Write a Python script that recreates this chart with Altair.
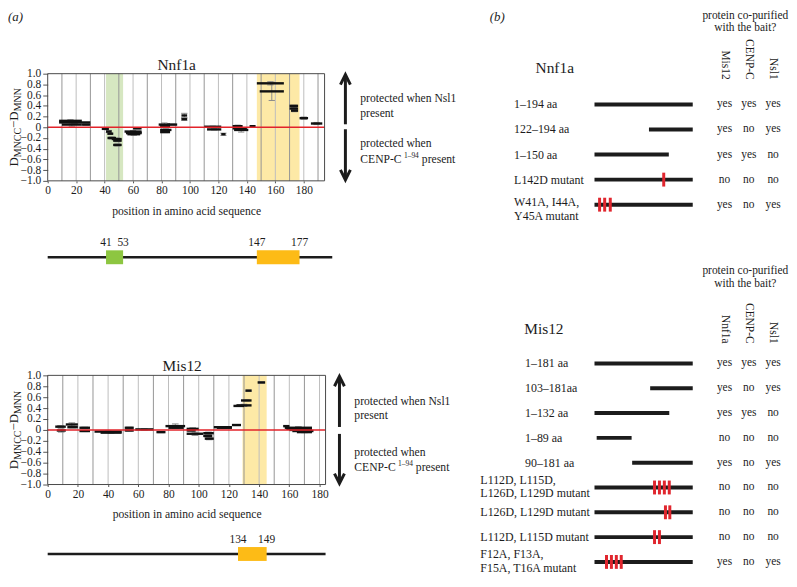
import altair as alt
import pandas as pd

FONT = "Liberation Serif"
INK = "#1c1c1c"
RED_LINE = "#e2232a"
RED_MUT = "#e0262e"
GREEN_BAND = "#d6e7c1"
GREEN_BOX = "#8dc641"
YELLOW_BAND = "#fde9a6"
YELLOW_BOX = "#fdbb16"

# ---------------- panel (a): Nnf1a ----------------
nnf_start = [8, 8, 10, 24, 38, 41, 42, 42, 45, 46, 46, 54, 55, 56, 58, 60, 78, 79, 79, 79, 84, 94, 94,
             110, 112, 122, 130, 130, 131, 142, 147, 149, 170, 170, 171, 177, 185]
nnf_end = [24, 30, 24, 30, 43, 45, 46, 48, 52, 52, 52, 66, 66, 65, 66, 66, 86, 86, 87, 86, 91, 98, 98,
           122, 122, 125, 137, 140, 141, 146, 166, 166, 176, 176, 176, 183, 193]
nnf_val = [0.12, 0.09, 0.05, 0.05, -0.03, -0.08, -0.12, -0.20, -0.22, -0.25, -0.33, -0.08, -0.11, -0.13,
           -0.10, -0.02, 0.05, 0.02, -0.05, -0.09, 0.05, 0.22, 0.15, 0.01, -0.04, -0.13, 0.02, -0.02,
           -0.05, 0.02, 0.82, 0.67, 0.40, 0.35, 0.31, 0.17, 0.07]
nnf_err = [0.02, 0.02, 0.03, 0.01, 0.01, 0.02, 0.01, 0.02, 0.02, 0.02, 0.02, 0.02, 0.02, 0.02, 0.01, 0.01,
           0.03, 0.02, 0.02, 0.01, 0.01, 0.04, 0.02, 0.01, 0.01, 0.02, 0.02, 0.02, 0.04, 0.01, 0.03, 0.17,
           0.01, 0.02, 0.02, 0.02, 0.02]
nnf_band_start = [41, 147]
nnf_band_end = [53, 177]
nnf_band_color = [GREEN_BAND, YELLOW_BAND]
nnf_box_start = [41, 147]
nnf_box_end = [53, 177]
nnf_box_color = [GREEN_BOX, YELLOW_BOX]
nnf_box_label_start = ["41", "147"]
nnf_box_label_end = ["53", "177"]
nnf_line_end = 200
nnf_grid = [10, 20, 30, 40, 50, 60, 70, 80, 90, 100, 110, 120, 130, 140, 150, 160, 170, 180, 190]

# ---------------- panel (a): Mis12 ----------------
mis_start = [5, 6, 12, 13, 21, 21, 31, 35, 51, 51, 58, 72, 78, 80, 92, 92, 92, 103, 103, 104, 110, 112,
             122, 123, 125, 128, 131, 139, 156, 157, 158, 160, 162, 165]
mis_end = [12, 12, 20, 20, 28, 28, 49, 49, 57, 57, 70, 78, 91, 90, 100, 98, 103, 110, 109, 110, 122, 122,
           128, 130, 135, 135, 135, 144, 160, 175, 175, 172, 176, 175]
mis_val = [0.06, -0.01, 0.10, 0.05, 0.04, -0.02, -0.03, -0.05, 0.04, -0.01, 0.01, -0.04, 0.07, 0.04, 0.02,
           -0.01, -0.07, -0.06, -0.11, -0.16, 0.05, 0.04, 0.09, 0.44, 0.45, 0.54, 0.72, 0.87, 0.07, 0.04,
           0.02, 0.00, -0.02, -0.04]
mis_err = [0.02, 0.03, 0.03, 0.01, 0.01, 0.01, 0.01, 0.01, 0.01, 0.01, 0.01, 0.01, 0.04, 0.01, 0.02, 0.01,
           0.03, 0.02, 0.02, 0.02, 0.01, 0.01, 0.01, 0.01, 0.02, 0.01, 0.01, 0.01, 0.01, 0.02, 0.01, 0.01,
           0.02, 0.01]
mis_band_start = [129]
mis_band_end = [145]
mis_band_color = [YELLOW_BAND]
mis_box_start = [126]
mis_box_end = [145]
mis_box_color = [YELLOW_BOX]
mis_box_label_start = ["134"]
mis_box_label_end = ["149"]
mis_line_end = 184
mis_grid = [10, 20, 30, 40, 50, 60, 70, 80, 90, 100, 110, 120, 130, 140, 150, 160, 170, 180]

Y_TICKS = [1.0, 0.8, 0.6, 0.4, 0.2, 0.0, -0.2, -0.4, -0.6, -0.8, -1.0]
X_TICKS = [0, 20, 40, 60, 80, 100, 120, 140, 160, 180]

# ---------------- panel (b): constructs ----------------
nnf_tab_labels = ["1–194 aa", "122–194 aa", "1–150 aa", "L142D mutant", "W41A, I44A,\nY45A mutant"]
nnf_tab_start = [1, 108, 1, 1, 1]
nnf_tab_end = [194, 194, 147, 194, 194]
nnf_tab_mut = [[], [], [], [137], [11, 21, 32]]
nnf_tab_cols = ["Mis12", "CENP-C", "Nsl1"]
nnf_tab_ans = [["yes", "yes", "yes"], ["yes", "no", "yes"], ["yes", "yes", "no"],
               ["no", "no", "no"], ["yes", "no", "yes"]]

mis_tab_labels = ["1–181 aa", "103–181aa", "1–132 aa", "1–89 aa", "90–181 aa",
                  "L112D, L115D,\nL126D, L129D mutant", "L126D, L129D mutant", "L112D, L115D mutant",
                  "F12A, F13A,\nF15A, T16A mutant"]
mis_tab_start = [1, 103, 1, 5, 70, 1, 1, 1, 1]
mis_tab_end = [181, 181, 138, 69, 181, 181, 181, 181, 181]
mis_tab_mut = [[], [], [], [], [], [111, 120, 129, 138], [131, 139], [111, 120], [23, 32, 41, 50]]
mis_tab_cols = ["Nnf1a", "CENP-C", "Nsl1"]
mis_tab_ans = [["yes", "yes", "yes"], ["yes", "no", "yes"], ["yes", "yes", "no"], ["no", "no", "no"],
               ["yes", "no", "yes"], ["no", "no", "no"], ["no", "no", "no"], ["no", "no", "no"],
               ["yes", "no", "yes"]]

ONE = pd.DataFrame({"k": [0]})


def txt(text, x, y, size=11.7, align="left", baseline="middle", angle=None, style=None,
        dx=None, dy=None, color=INK):
    kw = dict(text=text, fontSize=size, align=align, baseline=baseline, font=FONT, color=color)
    if angle is not None:
        kw["angle"] = angle
    if style:
        kw["fontStyle"] = style
    if dx is not None:
        kw["dx"] = dx
    if dy is not None:
        kw["dy"] = dy
    return alt.Chart(ONE).mark_text(**kw).encode(x=alt.value(x), y=alt.value(y))


def hdx_panel(start, end, val, err, xmax, W, H, band_s, band_e, band_c, grid, title, title_x,
              arrow_x, up_end, dn_start, note_y, box_s, box_e, box_c, lab_s, lab_e, line_end,
              diag_y, extra):
    xs = alt.Scale(domain=[0, xmax], nice=False, zero=False)
    ys = alt.Scale(domain=[-1, 1], nice=False, zero=False)
    ax_x = alt.Axis(values=X_TICKS, title="position in amino acid sequence", labelFont=FONT,
                    titleFont=FONT, labelFontSize=11.5, titleFontSize=11.7, titleFontWeight="normal",
                    labelColor=INK, titleColor=INK, tickSize=2, labelPadding=2, titlePadding=9,
                    domain=False, grid=False, tickColor="#555", labelFlush=False, labelOverlap=False)
    ax_y = alt.Axis(values=Y_TICKS, title=None, labelFont=FONT, labelFontSize=11.5, labelColor=INK,
                    labelExpr="datum.value == 0 ? '0' : format(datum.value, '.1f')",
                    tickSize=5, labelPadding=2, domain=False, grid=False, tickColor="#555",
                    labelOverlap=False)

    def X(f):
        return alt.X(f, type="quantitative", scale=xs, axis=ax_x)

    def Y(f):
        return alt.Y(f, type="quantitative", scale=ys, axis=ax_y)

    seg = pd.DataFrame(dict(start=start, end=end, val=val, err=err))
    bands = pd.DataFrame(dict(s=band_s, e=band_e, c=band_c))
    grid_df = pd.DataFrame(dict(g=grid))
    boxes = pd.DataFrame(dict(s=box_s, e=box_e, c=box_c, ls=lab_s, le=lab_e))
    line_df = pd.DataFrame(dict(s=[0], e=[line_end]))

    layers = []
    layers.append(alt.Chart(bands).mark_rect().encode(
        x=X("s"), x2="e", y=alt.value(0), y2=alt.value(H), color=alt.Color("c:N", scale=None)))
    layers.append(alt.Chart(grid_df).transform_calculate(
        shade="datum.g % 20 == 0 ? '#bdbdbd' : '#959595'").mark_rule(strokeWidth=1).encode(
        x=X("g"), y=alt.value(0), y2=alt.value(H), color=alt.Color("shade:N", scale=None)))
    # error bars first, so that the peptide segments sit on top of them
    ebase = alt.Chart(seg).transform_calculate(
        mid="(datum.start + datum.end) / 2", lo="datum.val - datum.err", hi="datum.val + datum.err",
        cl="(datum.start + datum.end) / 2 - 2.2", cr="(datum.start + datum.end) / 2 + 2.2")
    layers.append(ebase.mark_rule(color="#8a8a8a", strokeWidth=1).encode(
        x=X("mid"), y=Y("lo"), y2="hi"))
    layers.append(ebase.mark_rule(color="#8a8a8a", strokeWidth=1).encode(
        x=X("cl"), x2="cr", y=Y("lo")))
    layers.append(ebase.mark_rule(color="#8a8a8a", strokeWidth=1).encode(
        x=X("cl"), x2="cr", y=Y("hi")))
    layers.append(alt.Chart(seg).mark_rule(color="#111111", strokeWidth=2.4).encode(
        x=X("start"), x2="end", y=Y("val")))
    layers.append(alt.Chart(pd.DataFrame({"z": [0.0]})).mark_rule(
        color=RED_LINE, strokeWidth=1.5).encode(y=Y("z")))
    layers.append(alt.Chart(ONE).mark_rect(fillOpacity=0, stroke="#4a4a4a", strokeWidth=1).encode(
        x=alt.value(0), x2=alt.value(W), y=alt.value(0), y2=alt.value(H)))

    # title
    layers.append(txt(title, title_x, -9, size=15.5, align="center"))

    # y-axis title  D_MNCC - D_MNN (rotated)
    yc = H / 2
    for part, size, dx, dy in [("D", 13, -39.5, 0), ("MNCC", 10, -30.1, 3),
                               ("\u2212D", 13, -0.65, 0), ("MNN", 10, 16.1, 3)]:
        layers.append(txt(part, -30, yc, size=size, align="left", baseline="alphabetic",
                          angle=270, dx=dx, dy=dy))

    # double arrow
    layers.append(alt.Chart(ONE).mark_rule(color=INK, strokeWidth=3).encode(
        x=alt.value(arrow_x), y=alt.value(3), y2=alt.value(up_end)))
    layers.append(alt.Chart(ONE).mark_rule(color=INK, strokeWidth=3).encode(
        x=alt.value(arrow_x), y=alt.value(dn_start), y2=alt.value(H - 3)))
    layers.append(alt.Chart(ONE).mark_point(shape="M-0.5,1L0,0L0.5,1", size=400, filled=False,
                                            strokeWidth=3, color=INK, opacity=1).encode(
        x=alt.value(arrow_x), y=alt.value(1)))
    layers.append(alt.Chart(ONE).mark_point(shape="M-0.5,-1L0,0L0.5,-1", size=400, filled=False,
                                            strokeWidth=3, color=INK, opacity=1).encode(
        x=alt.value(arrow_x), y=alt.value(H - 1)))

    # notes
    nx = arrow_x + 15
    layers.append(txt("protected when Nsl1", nx, note_y[0]))
    layers.append(txt("present", nx, note_y[1]))
    layers.append(txt("protected when", nx, note_y[2]))
    layers.append(txt("CENP-C", nx, note_y[3]))
    layers.append(txt("1–94", nx + 44, note_y[3], size=7.5, dy=-3))
    layers.append(txt("present", nx + 62, note_y[3]))

    # domain diagram
    layers.append(alt.Chart(line_df).mark_rule(color=INK, strokeWidth=2.5).encode(
        x=X("s"), x2="e", y=alt.value(diag_y)))
    layers.append(alt.Chart(boxes).mark_rect().encode(
        x=X("s"), x2="e", y=alt.value(diag_y - 7), y2=alt.value(diag_y + 7),
        color=alt.Color("c:N", scale=None)))
    layers.append(alt.Chart(boxes).mark_text(font=FONT, fontSize=11.5, color=INK, align="center",
                                             baseline="middle").encode(
        x=X("s"), y=alt.value(diag_y - 14), text="ls:N"))
    layers.append(alt.Chart(boxes).mark_text(font=FONT, fontSize=11.5, color=INK, align="center",
                                             baseline="middle").encode(
        x=X("e"), y=alt.value(diag_y - 14), text="le:N"))
    layers.extend(extra)
    return alt.layer(*layers).properties(width=W, height=H)


def table_panel(labels, bstart, bend, muts, cols, answers, dmax, W, H, r0, r1, label_x, mutant_x,
                multi_dy, extra, header_y):
    xs = alt.Scale(domain=[1, dmax], nice=False, zero=False)
    ys = alt.Scale(domain=[r0, r1], reverse=True, nice=False, zero=False)
    cs = alt.Scale(type="point", domain=cols, range=[131, 180], padding=0)
    rows = list(range(1, len(labels) + 1))
    bars = pd.DataFrame(dict(row=rows, s=bstart, e=bend, label=labels))
    mut_rows, mut_pos = [], []
    for r, ms in zip(rows, muts):
        for m in ms:
            mut_rows.append(r)
            mut_pos.append(m)
    mdf = pd.DataFrame(dict(row=mut_rows, pos=mut_pos))
    c_rows, c_cols, c_ans = [], [], []
    for r, ans in zip(rows, answers):
        for c, a in zip(cols, ans):
            c_rows.append(r)
            c_cols.append(c)
            c_ans.append(a)
    cdf = pd.DataFrame(dict(row=c_rows, col=c_cols, ans=c_ans))

    Y = alt.Y("row:Q", scale=ys, axis=None)
    layers = []
    layers.append(alt.Chart(bars).mark_rule(color=INK, strokeWidth=4).encode(
        x=alt.X("s:Q", scale=xs, axis=None), x2="e:Q", y=Y))
    layers.append(alt.Chart(mdf).mark_tick(orient="vertical", size=14, thickness=3, color=RED_MUT,
                                           opacity=1).encode(
        x=alt.X("pos:Q", scale=xs, axis=None), y=Y))
    lab = alt.Chart(bars).mark_text(font=FONT, fontSize=12, color=INK, align="left",
                                    baseline="middle", lineBreak="\n", lineHeight=14)
    lab_multi = alt.Chart(bars).mark_text(font=FONT, fontSize=12, color=INK, align="left",
                                          baseline="middle", lineBreak="\n", lineHeight=14,
                                          dy=multi_dy)
    single = "indexof(datum.label, '\\n') < 0"
    layers.append(lab.transform_filter(single + " && indexof(datum.label, 'mutant') < 0").encode(
        x=alt.value(label_x), y=Y, text="label:N"))
    layers.append(lab.transform_filter(single + " && indexof(datum.label, 'mutant') >= 0").encode(
        x=alt.value(mutant_x), y=Y, text="label:N"))
    layers.append(lab_multi.transform_filter("indexof(datum.label, '\\n') >= 0").encode(
        x=alt.value(mutant_x), y=Y, text="label:N"))
    layers.append(alt.Chart(cdf).mark_text(font=FONT, fontSize=11.5, color=INK, align="center",
                                           baseline="middle").encode(
        x=alt.X("col:N", scale=cs, axis=None), y=Y, text="ans:N"))
    layers.append(alt.Chart(pd.DataFrame(dict(col=cols))).mark_text(
        font=FONT, fontSize=11.5, color=INK, angle=90, align="right", baseline="middle").encode(
        x=alt.X("col:N", scale=cs, axis=None), y=alt.value(header_y), text="col:N"))
    layers.extend(extra)
    return alt.layer(*layers).resolve_scale(x="independent").properties(width=W, height=H)


# --- chart A: Nnf1a HDX (plot origin at page 48,72) ---
A_extra = [
    alt.Chart(ONE).mark_rect(opacity=0).encode(x=alt.value(-40), x2=alt.value(-39),
                                               y=alt.value(-64), y2=alt.value(-63)),
    txt("(a)", -40, -57, size=13, style="italic"),
]
A = hdx_panel(nnf_start, nnf_end, nnf_val, nnf_err, 194.6, 279, 108, nnf_band_start, nnf_band_end,
              nnf_band_color, nnf_grid, "Nnf1a", 130, 300, 51, 56, [25, 40, 70, 86],
              nnf_box_start, nnf_box_end, nnf_box_color, nnf_box_label_start, nnf_box_label_end,
              nnf_line_end, 185, A_extra)

# --- chart B: Mis12 HDX (plot origin at page 48,376) ---
B = hdx_panel(mis_start, mis_end, mis_val, mis_err, 184, 280, 110, mis_band_start, mis_band_end,
              mis_band_color, mis_grid, "Mis12", 135.5, 294, 52, 59, [26, 40, 77, 92],
              mis_box_start, mis_box_end, mis_box_color, mis_box_label_start, mis_box_label_end,
              mis_line_end, 180, [])

# --- chart C: Nnf1a constructs (origin page 599,72) ---
C_extra = [
    txt("(b)", -98, -57, size=13, style="italic", align="center"),
    txt("protein co-purified", 152, -58, size=11.5, align="center"),
    txt("with the bait?", 152, -46, size=11.5, align="center"),
    txt("Nnf1a", -40, -6, size=15.5, align="center"),
]
C = table_panel(nnf_tab_labels, nnf_tab_start, nnf_tab_end, nnf_tab_mut, nnf_tab_cols, nnf_tab_ans,
                194, 99, 150, -0.2277, 5.7129, -81, -81, -3, C_extra, 6)

# --- chart D: Mis12 constructs (origin page 599,300); rows every 25 px from page y 364 ---
D_extra = [
    txt("protein co-purified", 152, -29, size=11.5, align="center"),
    txt("with the bait?", 152, -16, size=11.5, align="center"),
    txt("Mis12", -51, 29, size=15.5, align="center"),
]
D = table_panel(mis_tab_labels, mis_tab_start, mis_tab_end, mis_tab_mut, mis_tab_cols, mis_tab_ans,
                181, 99, 270, -1.56, 9.24, -70, -115, -8, D_extra, 44)

left = alt.vconcat(A, B, spacing=196, bounds="flush")
right = alt.vconcat(C, D, spacing=78, bounds="flush")
# nested concat groups count as zero-width under flush bounds, so the spacing is measured
# from the left column's plot origin
chart = alt.hconcat(left, right, spacing=551, bounds="flush").properties(
    padding=0).configure_view(stroke=None)

chart.save("out.html", embed_options={"renderer": "svg", "actions": False})
